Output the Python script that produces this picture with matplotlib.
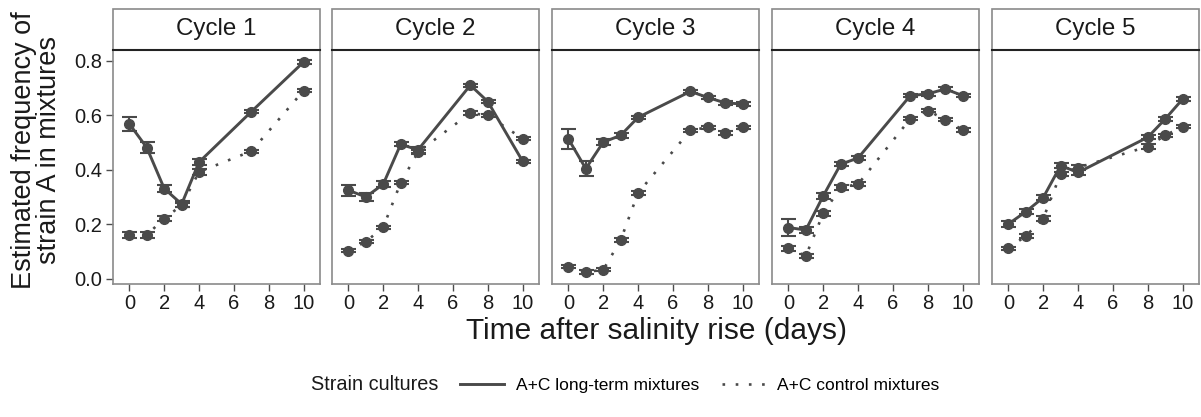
import matplotlib
matplotlib.use("Agg")
import matplotlib.pyplot as plt
from matplotlib.lines import Line2D
from matplotlib.patches import Rectangle

plt.rcParams['font.family'] = ['Liberation Sans', 'DejaVu Sans']

# data
cycles = ["Cycle 1", "Cycle 2", "Cycle 3", "Cycle 4", "Cycle 5"]

days = [
    [0, 1, 2, 3, 4, 7, 10],
    [0, 1, 2, 3, 4, 7, 8, 10],
    [0, 1, 2, 3, 4, 7, 8, 9, 10],
    [0, 1, 2, 3, 4, 7, 8, 9, 10],
    [0, 1, 2, 3, 4, 8, 9, 10],
]

longterm = [
    [0.568, 0.481, 0.331, 0.274, 0.428, 0.613, 0.795],
    [0.325, 0.300, 0.347, 0.493, 0.473, 0.710, 0.650, 0.431],
    [0.513, 0.404, 0.501, 0.526, 0.592, 0.687, 0.665, 0.645, 0.641],
    [0.188, 0.179, 0.304, 0.420, 0.443, 0.672, 0.678, 0.696, 0.672],
    [0.201, 0.246, 0.298, 0.415, 0.390, 0.519, 0.586, 0.659],
]
longterm_err = [
    [0.025, 0.020, 0.012, 0.012, 0.012, 0.006, 0.006],
    [0.020, 0.015, 0.010, 0.007, 0.010, 0.006, 0.006, 0.006],
    [0.038, 0.028, 0.012, 0.008, 0.006, 0.006, 0.006, 0.006, 0.006],
    [0.030, 0.010, 0.010, 0.008, 0.006, 0.006, 0.006, 0.006, 0.006],
    [0.012, 0.010, 0.008, 0.008, 0.008, 0.008, 0.006, 0.006],
]

control = [
    [0.161, 0.161, 0.221, 0.270, 0.392, 0.468, 0.690],
    [0.103, 0.136, 0.189, 0.352, 0.465, 0.608, 0.599, 0.514],
    [0.045, 0.025, 0.033, 0.142, 0.315, 0.544, 0.556, 0.535, 0.556],
    [0.112, 0.084, 0.240, 0.335, 0.347, 0.587, 0.617, 0.584, 0.546],
    [0.112, 0.157, 0.221, 0.385, 0.408, 0.485, 0.526, 0.558],
]
control_err = [
    [0.010, 0.010, 0.008, 0.008, 0.010, 0.006, 0.006],
    [0.006, 0.006, 0.006, 0.006, 0.006, 0.006, 0.006, 0.006],
    [0.006, 0.006, 0.006, 0.008, 0.006, 0.006, 0.006, 0.006, 0.006],
    [0.010, 0.008, 0.010, 0.008, 0.008, 0.006, 0.006, 0.006, 0.006],
    [0.006, 0.008, 0.008, 0.008, 0.008, 0.008, 0.006, 0.006],
]

labels = ["A+C long-term mixtures", "A+C control mixtures"]

col = '#4a4a4a'
W, H = 1201, 417
fig = plt.figure(figsize=(W / 100, H / 100), dpi=100)

lefts = [113, 332, 552, 772, 992]
pw = 207
top, bottom = 50, 284
strip_h = 41
dotted = (0, (1, 4))

for i, name in enumerate(cycles):
    ax = fig.add_axes([lefts[i] / W, 1 - bottom / H, pw / W, (bottom - top) / H])
    for y, e, ls, lw in [(longterm[i], longterm_err[i], '-', 2.1), (control[i], control_err[i], dotted, 1.9)]:
        ax.plot(days[i], y, color=col, lw=lw, ls=ls, zorder=2)
        ax.errorbar(days[i], y, yerr=e, fmt='o', color=col, ms=7, elinewidth=1.5,
                    capsize=5.4, capthick=1.5, zorder=3)
    ax.set_xlim(-0.94, 10.94)
    ax.set_ylim(-0.019, 0.839)
    ax.set_xticks([0, 2, 4, 6, 8, 10])
    ax.set_yticks([0, 0.2, 0.4, 0.6, 0.8])
    ax.tick_params(colors='#4d4d4d', labelcolor='#1a1a1a', labelsize=14.5, length=5, width=1, pad=2.5)
    if i == 0:
        ax.set_yticklabels(['0.0', '0.2', '0.4', '0.6', '0.8'])
    else:
        ax.tick_params(axis='y', left=False, labelleft=False)
    for s in ax.spines.values():
        s.set_color('#8a8a8a')
        s.set_linewidth(1.2)
    # facet strip
    sh = strip_h / (bottom - top)
    ax.add_patch(Rectangle((0, 1), 1, sh, transform=ax.transAxes, facecolor='white',
                           edgecolor='#8a8a8a', lw=1.2, clip_on=False, zorder=5))
    ax.plot([0, 1], [1, 1], transform=ax.transAxes, color='#222222', lw=1.5, clip_on=False, zorder=6)
    ax.text(0.5, 1 + sh / 2, name, transform=ax.transAxes, ha='center', va='center',
            fontsize=17.4, color='#1a1a1a', zorder=7)

fig.text(37 / W, 1 - 150 / H, "Estimated frequency of\nstrain A in mixtures", rotation=90,
         ha='center', va='center', fontsize=19.5, color='#1a1a1a', multialignment='center',
         linespacing=0.95)
fig.text(656 / W, 1 - 331 / H, "Time after salinity rise (days)", ha='center', va='center',
         fontsize=21.5, color='#1a1a1a')

fig.text(375 / W, 1 - 385 / H, "Strain cultures", ha='center', va='center', fontsize=14.3, color='#1a1a1a')
handles = [Line2D([], [], color=col, lw=2.1, ls='-'),
           Line2D([], [], color=col, lw=1.9, ls=dotted)]
fig.legend(handles, labels, loc='center', bbox_to_anchor=(700 / W, 1 - 385 / H), ncol=2,
           frameon=False, fontsize=12.5, handlelength=2.5, columnspacing=1.3, handletextpad=0.7)

fig.savefig("out.png", dpi=100)
